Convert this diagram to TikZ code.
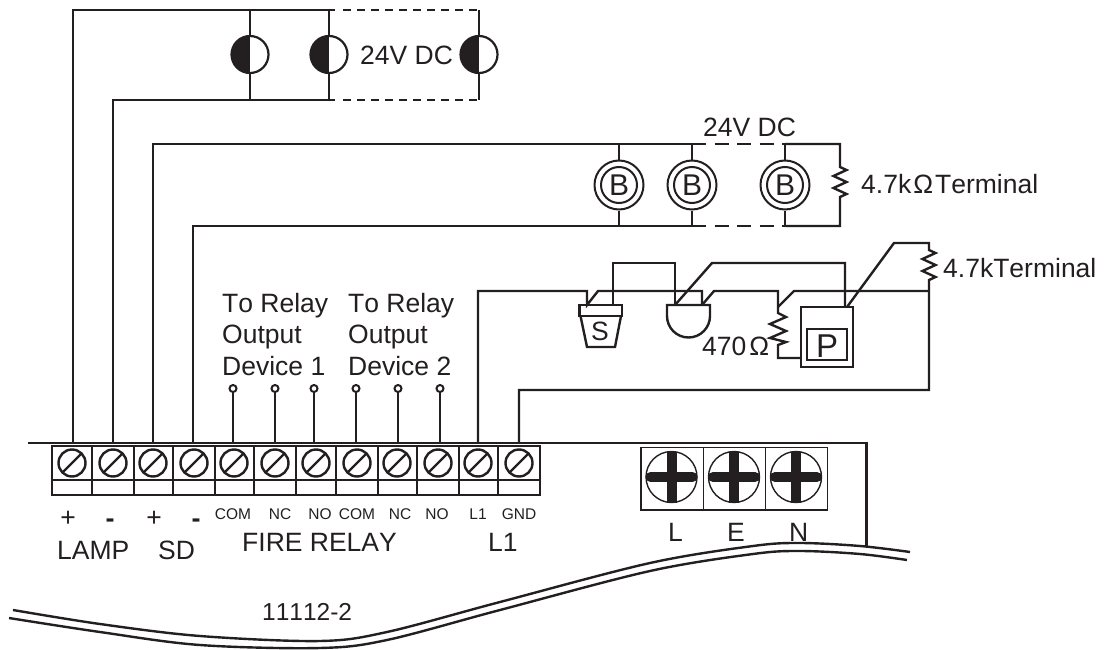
\documentclass[tikz,border=0pt]{standalone}
\usepackage{fontspec}
\setmainfont[Kerning=Off]{Liberation Sans}
\definecolor{ink}{HTML}{231F20}
\tikzset{
  wire/.style={draw=ink,line width=2.4pt,line join=miter},
  dashtop/.style={draw=ink,line width=2.4pt,dash pattern=on 7.5pt off 6.5pt},
  dashmid/.style={draw=ink,line width=2.4pt,dash pattern=on 14pt off 8.5pt},
  thinbox/.style={draw=ink,line width=1.5pt},
  lbl/.style={inner sep=0pt,anchor=base west,text=ink,font=\fontsize{26.5}{26.5}\selectfont},
  lblc/.style={inner sep=0pt,anchor=base,text=ink,font=\fontsize{26.5}{26.5}\selectfont},
  small/.style={inner sep=0pt,anchor=base,text=ink,font=\fontsize{15.5}{16}\selectfont},
  screw/.style={circle,draw=ink,line width=2.4pt,minimum size=27pt,inner sep=0pt,
    path picture={\draw[ink,line width=2.4pt] (path picture bounding box.south west) -- (path picture bounding box.north east);}},
  halflamp/.style={circle,draw=ink,line width=2.2pt,minimum size=37pt,inner sep=0pt,
    path picture={\fill[ink] (path picture bounding box.north west) rectangle (path picture bounding box.south);}},
  blamp/.style={circle,draw=ink,line width=2pt,minimum size=49pt,inner sep=0pt,text=ink,
    font=\fontsize{30}{30}\selectfont},
  blampin/.style={circle,draw=ink,line width=2pt,minimum size=36pt,inner sep=0pt},
  stubdot/.style={circle,draw=ink,line width=2pt,minimum size=7pt,inner sep=0pt,fill=white},
  phillips/.style={circle,draw=ink,line width=1.4pt,minimum size=51pt,inner sep=0pt},
}
\newcommand{\zigzagpath}{-- ++(6.5,3) -- ++(-13,6) -- ++(13,6) -- ++(-13,6) -- ++(13,6) -- ++(-6.5,3)}
\begin{document}
\begin{tikzpicture}[x=1pt,y=-1pt]
\useasboundingbox (0,0) rectangle (1105,650);
% terminal block
\draw[wire] (28,443) -- (866.5,443) -- (866.5,546);
\draw[wire] (52,446) rectangle (540,495);
\draw[wire] (52,480) -- (540,480);
\foreach \xs in {92,134,173,215,254,296,336,378,417,459,498}
  \draw[wire] (\xs,446) -- (\xs,495);
\foreach \n/\xs in {1/72,2/113,3/153,4/194,5/234,6/275,7/316,8/357,9/397,10/438,11/478,12/519}
  \node[screw] (t\n) at (\xs,463) {};
% mains terminal
\draw[thinbox] (641,447.5) rectangle (827.5,510);
\draw[thinbox] (703.5,447.5) -- (703.5,510);
\draw[thinbox] (765.5,447.5) -- (765.5,510);
\foreach \n/\xs in {L/671.5,E/734,N/796}{
  \node[phillips] (m\n) at (\xs,477) {};
  \draw[ink,line width=10pt] (\xs,452) -- (\xs,503);
  \draw[ink,line width=10pt,line cap=round] (\xs-21,477) -- (\xs+21,477);
}
% board break
\draw[wire] plot[smooth,tension=.55] coordinates {(13,610) (100,624) (200,636) (320,641) (387,632) (500,602) (650,563) (753,546) (800,543) (860,546) (910,552)};
\draw[wire] plot[smooth,tension=.55] coordinates {(9,618) (100,632) (200,645) (320,648) (387,640) (500,610) (650,571) (753,554) (800,551) (860,554) (907,560)};
% lamp circuit
\coordinate (lt1) at (250,10); \coordinate (lt2) at (329,10); \coordinate (lt3) at (479,10);
\coordinate (lb1) at (250,100); \coordinate (lb2) at (329,100); \coordinate (lb3) at (479,100);
\node[halflamp] (h1) at (250,54.5) {};
\node[halflamp] (h2) at (329,54.5) {};
\node[halflamp] (h3) at (479,54.5) {};
\draw[wire] (73,443) -- (73,10) -- (335,10);
\draw[wire] (113,443) -- (113,100) -- (335,100);
\draw[dashtop] (343,10) -- (lt3);
\draw[dashtop] (343,100) -- (lb3);
\foreach \i in {1,2,3}{
  \draw[wire] (lt\i) -- (h\i.north);
  \draw[wire] (h\i.south) -- (lb\i);
}
% sounder circuit
\coordinate (bt1) at (619,144); \coordinate (bt2) at (692,144); \coordinate (bt3) at (785,144); \coordinate (bt4) at (840,144);
\coordinate (bb1) at (619,226); \coordinate (bb2) at (692,226); \coordinate (bb3) at (785,226); \coordinate (bb4) at (840,226);
\draw[wire] (153,443) -- (153,144) -- (bt2);
\draw[wire] (193,443) -- (193,226) -- (bb2);
\draw[dashmid] (bt2) -- (bt3);
\draw[dashmid] (bb2) -- (bb3);
\draw[wire] (bt3) -- (bt4) -- (840,167) \zigzagpath -- (bb4) -- (bb3);
\foreach \i in {1,2,3}{
  \node[blampin] (bi\i) at (bt\i |- 0,185) {};
  \node[blamp] (b\i) at (bt\i |- 0,185) {B};
  \draw[wire] (bt\i) -- (b\i.north);
  \draw[wire] (b\i.south) -- (bb\i);
}
% relay stubs
\foreach \n/\xs in {a/233,b/275,c/314,d/356,e/398,f/440}{
  \node[stubdot] (s\n) at (\xs,388.5) {};
  \draw[wire] (s\n.south) -- (\xs,443);
}
% L1 circuit
\draw[wire] (478,443) -- (478,291) -- (587,291) -- (587,305) -- (598,291) -- (702,291) -- (702,305);
\draw[wire] (613,305) -- (613,263) -- (675,263) -- (675,305);
\draw[wire] (675,305) -- (712,263) -- (845,263) -- (845,307);
\draw[wire] (702,305) -- (714,291) -- (778,291) -- (778,307);
\draw[wire] (778,307) -- (794,291) -- (929,291);
\draw[wire] (778,307) -- (778,313) -- ++(8,4) -- ++(-16,7) -- ++(16,7) -- ++(-16,7) -- ++(16,4) -- ++(-8,3) -- (778,358) -- (801,358);
\draw[wire] (847,307) -- (894,243) -- (929,243) -- (929,250) \zigzagpath -- (929,291) -- (929,390) -- (519,390) -- (519,443);
% smoke detector
\draw[wire] (579.5,305) rectangle (622,316);
\draw[wire] (580.5,316) -- (587,347) -- (615,347) -- (621,316);
\node[lblc] (slab) at (600,340) {S};
% bell
\draw[wire] (667,305) -- (710,305) -- (710,316) arc[start angle=0,end angle=180,radius=21.5] -- cycle;
% P box
\draw[wire] (801,307) rectangle (853,367);
\draw[wire] (807,329) rectangle (847,360);
\node[lblc,font=\fontsize{33}{33}\selectfont] (plab) at (827,357) {P};
% labels
\node[lbl] (v1) at (360,65) {24V DC};
\node[lbl] (v2) at (703,136) {24V DC};
\node[lbl] (term1) at (861,193) {4.7k\kern2pt Ω\kern2pt Terminal};
\node[lbl] (term2) at (943,277) {4.7kTerminal};
\node[lbl] (ohm) at (702,355) {470\kern3pt Ω};
\node[lbl] (r1a) at (222,312) {To Relay};
\node[lbl] (r1b) at (222,343) {Output};
\node[lbl] (r1c) at (222,375) {Device 1};
\node[lbl] (r2a) at (348,312) {To Relay};
\node[lbl] (r2b) at (348,343) {Output};
\node[lbl] (r2c) at (348,375) {Device 2};
\node[lblc] (p1) at (68,526) {+};
\node[lblc,font=\fontsize{27}{27}\bfseries] (n1) at (110,527) {-};
\node[lblc] (p2) at (154,526) {+};
\node[lblc,font=\fontsize{27}{27}\bfseries] (n2) at (196,527) {-};
\node[small] (c1) at (233,519) {COM};
\node[small] (c2) at (280,519) {NC};
\node[small] (c3) at (320,519) {NO};
\node[small] (c4) at (357,519) {COM};
\node[small] (c5) at (400,519) {NC};
\node[small] (c6) at (437,519) {NO};
\node[small] (c7) at (478,519) {L1};
\node[small] (c8) at (519,519) {GND};
\node[lbl] (lamp) at (57,559) {LAMP};
\node[lbl] (sd) at (158,559) {SD};
\node[lbl] (fire) at (242,551) {FIRE RELAY};
\node[lbl] (l1) at (488,551) {L1};
\node[lbl] (L) at (668,541) {L};
\node[lbl] (E) at (727,541) {E};
\node[lbl] (N) at (789,541) {N};
\node[lbl,font=\fontsize{24.5}{24.5}\selectfont] (code) at (262,620) {11112-2};
\end{tikzpicture}
\end{document}
